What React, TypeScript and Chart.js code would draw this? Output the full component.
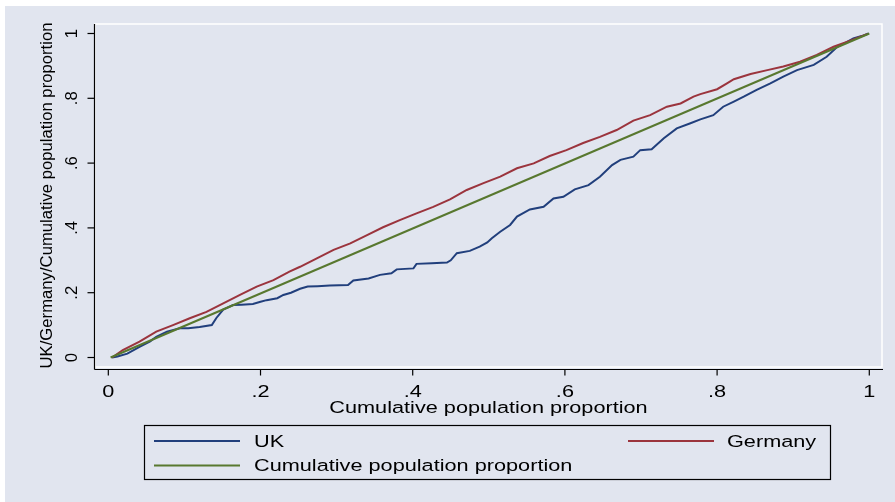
import React, { useEffect, useRef } from "react";
import { Chart, registerables } from "chart.js";

Chart.register(...registerables);

// ---------- data ----------
const ukX = [0.005, 0.012, 0.025, 0.041, 0.055, 0.063, 0.077, 0.094, 0.105, 0.12, 0.136, 0.142, 0.151, 0.164, 0.175, 0.19, 0.2, 0.208, 0.222, 0.23, 0.24, 0.252, 0.262, 0.275, 0.291, 0.315, 0.322, 0.342, 0.357, 0.372, 0.379, 0.401, 0.405, 0.425, 0.445, 0.45, 0.458, 0.475, 0.488, 0.498, 0.504, 0.515, 0.528, 0.537, 0.554, 0.572, 0.585, 0.598, 0.613, 0.631, 0.646, 0.662, 0.673, 0.69, 0.699, 0.714, 0.73, 0.747, 0.765, 0.778, 0.795, 0.808, 0.822, 0.835, 0.852, 0.87, 0.887, 0.905, 0.927, 0.944, 0.958, 0.969, 0.979, 0.99, 0.999];
const ukY = [0, 0.003, 0.012, 0.033, 0.05, 0.064, 0.08, 0.09, 0.09, 0.094, 0.1, 0.122, 0.148, 0.162, 0.163, 0.165, 0.172, 0.177, 0.183, 0.193, 0.2, 0.212, 0.219, 0.22, 0.222, 0.224, 0.238, 0.244, 0.255, 0.26, 0.272, 0.275, 0.289, 0.291, 0.293, 0.3, 0.322, 0.329, 0.342, 0.355, 0.368, 0.388, 0.409, 0.435, 0.457, 0.465, 0.491, 0.496, 0.519, 0.532, 0.558, 0.594, 0.61, 0.62, 0.64, 0.643, 0.677, 0.707, 0.723, 0.735, 0.748, 0.774, 0.79, 0.805, 0.826, 0.846, 0.867, 0.887, 0.903, 0.928, 0.959, 0.972, 0.985, 0.992, 1.0];

const deX = [0.005, 0.019, 0.041, 0.063, 0.085, 0.107, 0.129, 0.151, 0.173, 0.195, 0.217, 0.238, 0.252, 0.274, 0.296, 0.318, 0.34, 0.361, 0.383, 0.405, 0.427, 0.449, 0.471, 0.493, 0.515, 0.537, 0.559, 0.58, 0.602, 0.624, 0.646, 0.668, 0.69, 0.712, 0.734, 0.752, 0.769, 0.778, 0.8, 0.813, 0.822, 0.844, 0.866, 0.887, 0.909, 0.931, 0.953, 0.975, 0.997];
const deY = [0, 0.023, 0.049, 0.08, 0.1, 0.121, 0.141, 0.167, 0.193, 0.219, 0.239, 0.265, 0.28, 0.306, 0.332, 0.352, 0.378, 0.402, 0.424, 0.445, 0.465, 0.488, 0.517, 0.538, 0.558, 0.584, 0.599, 0.622, 0.64, 0.662, 0.681, 0.702, 0.731, 0.748, 0.774, 0.784, 0.805, 0.813, 0.828, 0.846, 0.859, 0.875, 0.887, 0.898, 0.913, 0.934, 0.959, 0.978, 0.998];

const eqX = [0.003, 1.0];
const eqY = [0.0, 1.0];

const tickValues = [0, 0.2, 0.4, 0.6, 0.8, 1];
const tickLabels = ["0", ".2", ".4", ".6", ".8", "1"];

const seriesNames = ["UK", "Germany", "Cumulative population proportion"];
const xTitle = "Cumulative population proportion";
const yTitle = "UK/Germany/Cumulative population proportion";

const NAVY = "#213f7c";
const MAROON = "#9b343d";
const GREEN = "#58782f";
const BG = "#e1e5ef";

const FONT_FAMILY = '"Liberation Sans", Arial, sans-serif';
const FS = 16.7;
const SX = 1.3;

function pts(xs: number[], ys: number[]) {
  return xs.map((x, i) => ({ x, y: ys[i] }));
}

function hText(ctx: CanvasRenderingContext2D, text: string, x: number, y: number, align: CanvasTextAlign) {
  ctx.save();
  ctx.translate(x, y);
  ctx.scale(SX, 1);
  ctx.font = `${FS}px ${FONT_FAMILY}`;
  ctx.fillStyle = "#000";
  ctx.textAlign = align;
  ctx.textBaseline = "alphabetic";
  ctx.fillText(text, 0, 0);
  ctx.restore();
}

function vText(ctx: CanvasRenderingContext2D, text: string, x: number, y: number) {
  ctx.save();
  ctx.translate(x, y);
  ctx.rotate(-Math.PI / 2);
  ctx.font = `${FS}px ${FONT_FAMILY}`;
  ctx.fillStyle = "#000";
  ctx.textAlign = "center";
  ctx.textBaseline = "alphabetic";
  ctx.fillText(text, 0, 0);
  ctx.restore();
}

const stataPlugin = {
  id: "stataDecor",
  beforeDraw(chart: any) {
    const ctx = chart.ctx as CanvasRenderingContext2D;
    ctx.save();
    ctx.fillStyle = "#ffffff";
    ctx.fillRect(0, 0, chart.width, chart.height);
    ctx.fillStyle = BG;
    ctx.fillRect(5, 6, chart.width - 5, chart.height - 6);
    const a = chart.chartArea;
    ctx.strokeStyle = "#ffffff";
    ctx.lineWidth = 1.5;
    ctx.strokeRect(a.left, a.top, a.right - a.left, a.bottom - a.top);
    ctx.restore();
  },
  afterDraw(chart: any) {
    const ctx = chart.ctx as CanvasRenderingContext2D;
    const a = chart.chartArea;
    const xs = chart.scales.x;
    const ys = chart.scales.y;
    ctx.save();
    ctx.strokeStyle = "#000";
    ctx.lineWidth = 1.2;
    // y axis
    const axX = a.left - 0.5;
    ctx.beginPath();
    ctx.moveTo(axX, a.top);
    ctx.lineTo(axX, a.bottom + 2.5);
    ctx.stroke();
    // x axis
    const axY = a.bottom + 2.5;
    ctx.beginPath();
    ctx.moveTo(axX, axY);
    ctx.lineTo(a.right + 1, axY);
    ctx.stroke();
    // ticks
    tickValues.forEach((v, i) => {
      const py = ys.getPixelForValue(v);
      ctx.beginPath();
      ctx.moveTo(axX - 7, py);
      ctx.lineTo(axX, py);
      ctx.stroke();
      vText(ctx, tickLabels[i], 77, py);
      const px = xs.getPixelForValue(v);
      ctx.beginPath();
      ctx.moveTo(px, axY);
      ctx.lineTo(px, axY + 6);
      ctx.stroke();
      hText(ctx, tickLabels[i], px, 397, "center");
    });
    // titles
    hText(ctx, xTitle, (a.left + a.right) / 2, 412.5, "center");
    vText(ctx, yTitle, 52, (a.top + a.bottom) / 2);

    // legend
    ctx.fillStyle = BG;
    ctx.fillRect(144, 425, 686, 54);
    ctx.strokeStyle = "#000";
    ctx.lineWidth = 1.2;
    ctx.strokeRect(144.5, 425.5, 686, 54);
    const items = [
      { c: NAVY, x1: 154, x2: 240, tx: 254, y: 441, base: 447, name: seriesNames[0] },
      { c: MAROON, x1: 628, x2: 714, tx: 727, y: 441, base: 447, name: seriesNames[1] },
      { c: GREEN, x1: 154, x2: 240, tx: 254, y: 465.5, base: 471, name: seriesNames[2] },
    ];
    items.forEach((it) => {
      ctx.strokeStyle = it.c;
      ctx.lineWidth = 2;
      ctx.beginPath();
      ctx.moveTo(it.x1, it.y);
      ctx.lineTo(it.x2, it.y);
      ctx.stroke();
      hText(ctx, it.name, it.tx, it.base, "left");
    });
    ctx.restore();
  },
};

export default function App() {
  const ref = useRef<HTMLCanvasElement | null>(null);
  useEffect(() => {
    if (!ref.current) return;
    const chart = new Chart(ref.current, {
      type: "scatter",
      data: {
        datasets: [
          { label: seriesNames[0], data: pts(ukX, ukY), showLine: true, borderColor: NAVY, borderWidth: 2, pointRadius: 0, tension: 0, order: 2 },
          { label: seriesNames[1], data: pts(deX, deY), showLine: true, borderColor: MAROON, borderWidth: 2, pointRadius: 0, tension: 0, order: 1 },
          { label: seriesNames[2], data: pts(eqX, eqY), showLine: true, borderColor: GREEN, borderWidth: 2, pointRadius: 0, tension: 0, order: 0 },
        ],
      },
      options: {
        animation: false,
        responsive: false,
        devicePixelRatio: 1,
        layout: { padding: { left: 95, top: 24, right: 13, bottom: 135 } },
        plugins: { legend: { display: false }, tooltip: { enabled: false } },
        scales: {
          x: { type: "linear", min: -0.0175, max: 1.0167, display: false },
          y: { type: "linear", min: -0.0293, max: 1.0293, display: false },
        },
      },
      plugins: [stataPlugin],
    });
    return () => chart.destroy();
  }, []);
  return (
    <div style={{ position: "fixed", left: 0, top: 0, width: 895, height: 502 }}>
      <canvas ref={ref} width={895} height={502} style={{ display: "block" }} />
    </div>
  );
}
